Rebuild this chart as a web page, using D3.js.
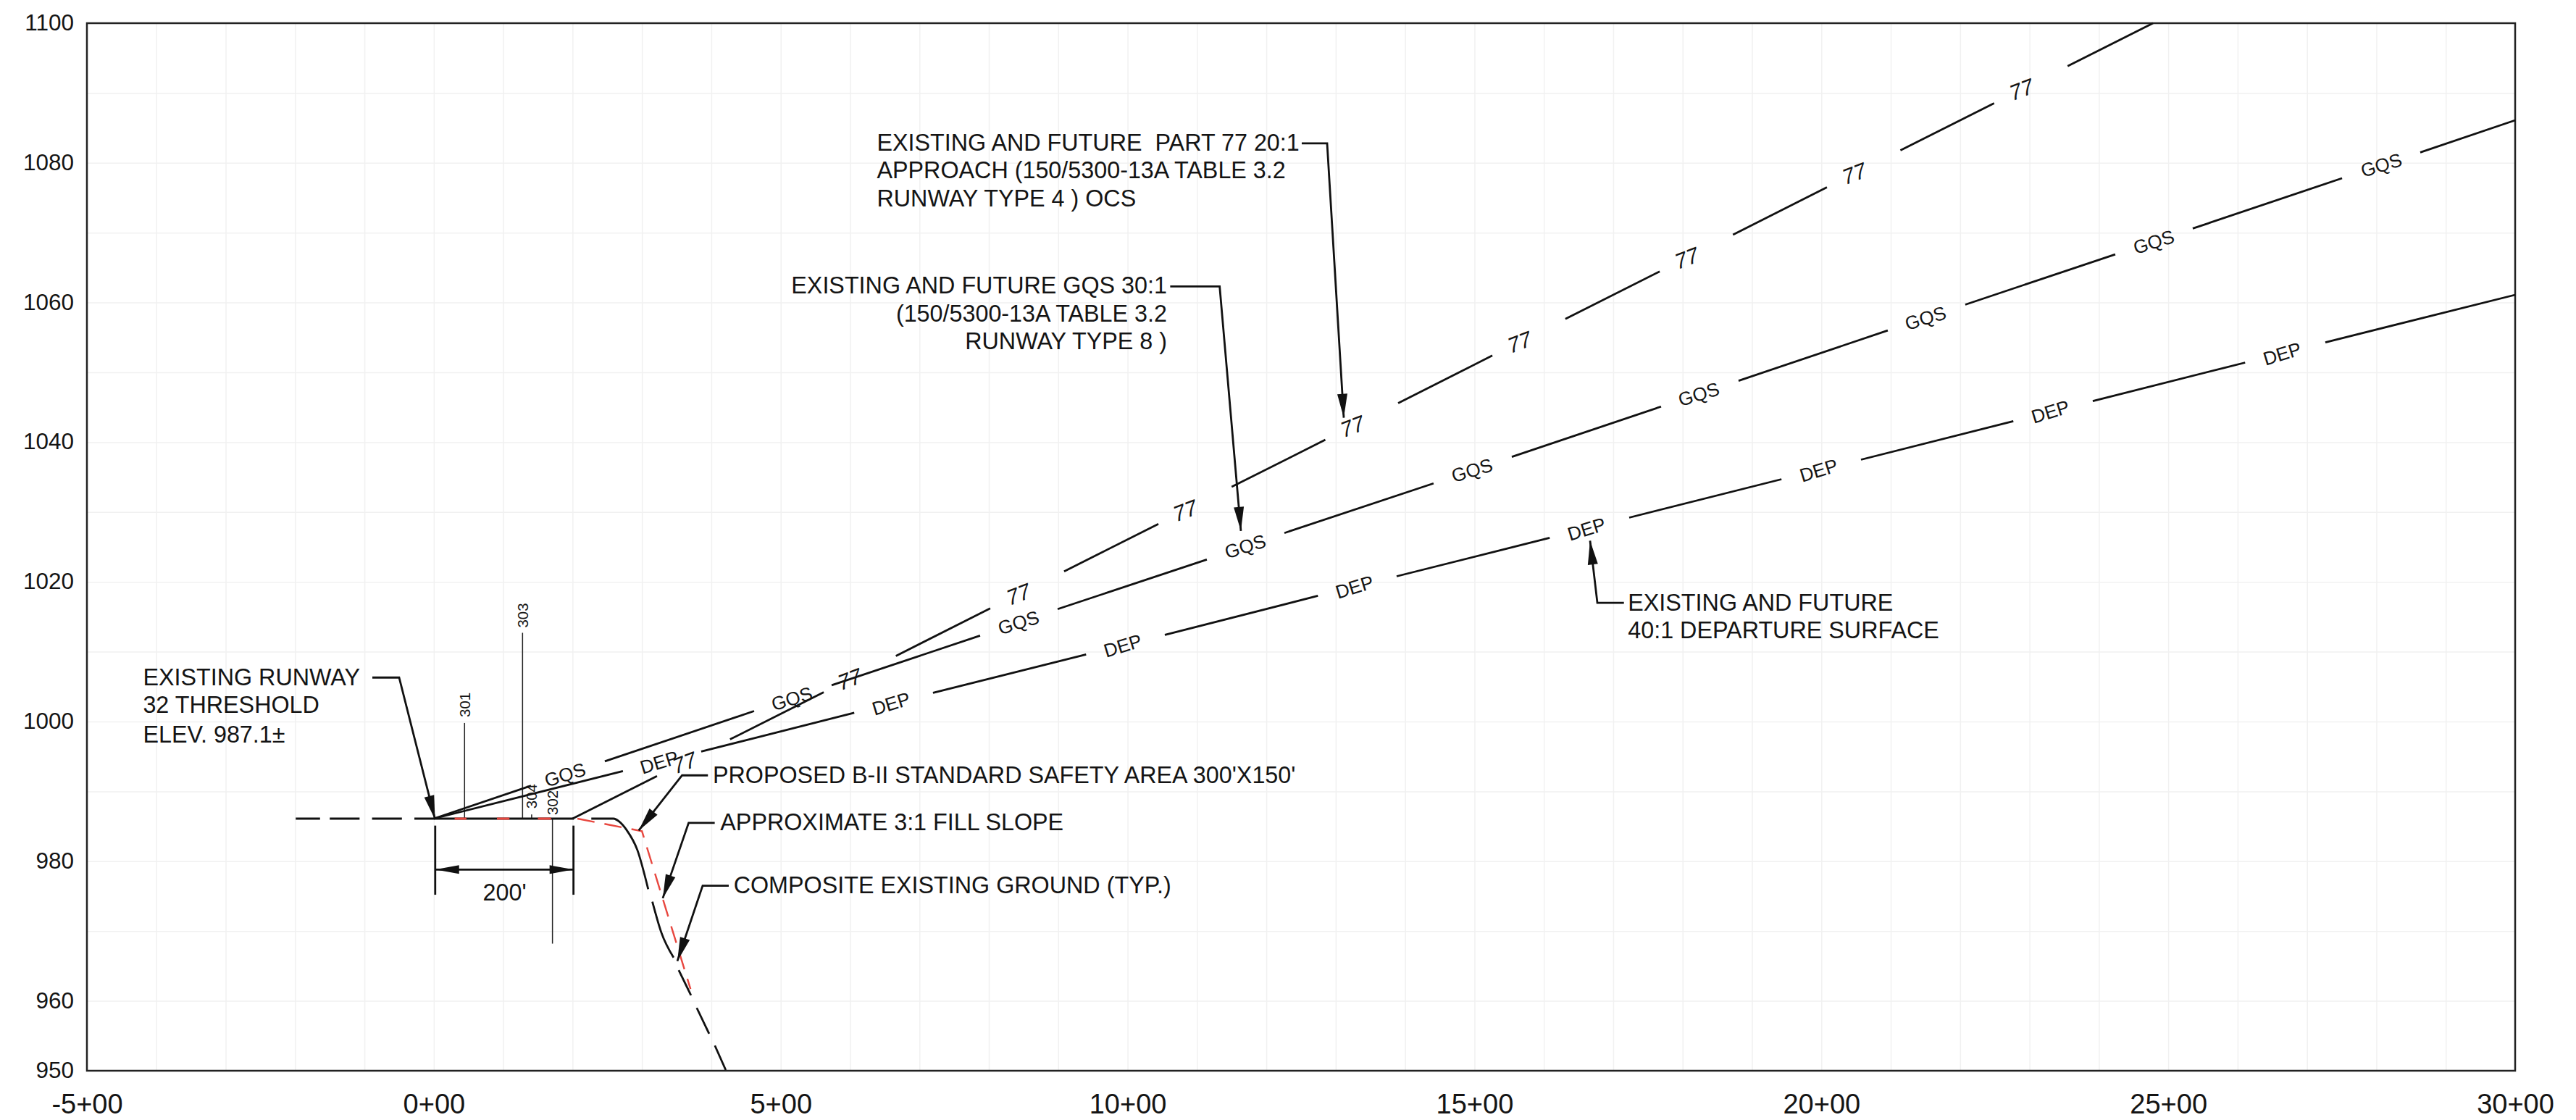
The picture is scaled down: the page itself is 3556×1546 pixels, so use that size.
<!DOCTYPE html>
<html>
<head>
<meta charset="utf-8">
<script src="https://cdn.jsdelivr.net/npm/d3@7"></script>
<style>
    html, body { margin: 0; background: #fff; }
    text { font-family: "Liberation Sans", Arial, sans-serif; fill: #141414; white-space: pre; }
</style>
</head>
<body>
<div id="chart"></div>
<script>
// ticks
const stationTicks = [-500, 0, 500, 1000, 1500, 2000, 2500, 3000];
const stationLabels = ['-5+00', '0+00', '5+00', '10+00', '15+00', '20+00', '25+00', '30+00'];
const elevTicks = [950, 960, 980, 1000, 1020, 1040, 1060, 1080, 1100];

// part 77 20:1 surface, one entry per drawn piece
const part77Starts = [[200, 986.1], [427, 997.45], [666, 1009.4], [908.5, 1021.5], [1150, 1033.6], [1390, 1045.6], [1631, 1057.65], [1872.6, 1069.7], [2114, 1081.8], [2355, 1093.85]];
const part77Ends = [[321.7, 992.2], [562, 1004.2], [802, 1016.2], [1044.4, 1028.3], [1285, 1040.35], [1525.7, 1052.4], [1767, 1064.45], [2008, 1076.5], [2249, 1088.55], [2478, 1100]];
const part77Labels = [[361.4, 994.15], [599.5, 1006.1], [842.7, 1018.25], [1083, 1030.25], [1324, 1042.3], [1565, 1054.35], [1806, 1066.4], [2047.4, 1078.5], [2288.5, 1090.55]];

// GQS 30:1 surface
const gqsStarts = [[0, 986.1], [246.5, 994.3], [573.4, 1005.2], [899.2, 1016.1], [1226, 1027], [1553.8, 1037.9], [1880.6, 1048.8], [2207.4, 1059.7], [2535.3, 1070.6], [2863.2, 1081.5]];
const gqsEnds = [[140, 990.8], [461.6, 1001.5], [787.4, 1012.3], [1114.2, 1023.2], [1441, 1034.1], [1768.9, 1045.1], [2095.7, 1056], [2423.6, 1066.9], [2750.5, 1077.8], [3000, 1086.1]];
const gqsLabels = [[189, 992.4], [516, 1003.3], [842.7, 1014.2], [1169.6, 1025.1], [1496.4, 1036], [1823.2, 1046.9], [2150, 1057.8], [2479, 1068.7], [2807, 1079.7]];

// 40:1 departure surface
const depStarts = [[0, 986.1], [385.4, 995.7], [719.5, 1004.1], [1053.7, 1012.4], [1387.8, 1020.8], [1723, 1029.2], [2057.1, 1037.5], [2391.2, 1045.9], [2726.4, 1054.3]];
const depEnds = [[272.6, 992.9], [606, 1001.25], [940.2, 1009.6], [1274.3, 1018], [1608.4, 1026.3], [1942.5, 1034.7], [2276.7, 1043], [2610.8, 1051.4], [3000, 1061.1]];
const depLabels = [[324.8, 994.2], [659, 1002.6], [993, 1010.9], [1327, 1019.3], [1661.4, 1027.6], [1996, 1036], [2330, 1044.4], [2664, 1052.7]];

// existing ground / runway profile, dashes kept as separate pieces
const groundPieces = [
    [[-199, 986.1], [-164, 986.1]],
    [[-150, 986.1], [-107, 986.1]],
    [[-89, 986.1], [-46, 986.1]],
    [[-28, 986.1], [202, 986.1]],
    [[227, 986.1], [259, 986.1], [267, 985.7], [277.7, 984.5], [293.4, 981.6], [309, 976]],
    [[315, 974.2], [327.9, 969.8], [345.6, 966.2]],
    [[353, 964.4], [370.7, 960.8]],
    [[379, 959], [396.8, 955.3]],
    [[405.1, 953.6], [420.8, 950.1]]
];

// safety area grading (red)
const safetyFlat = [[[30, 986.1], [47, 986.1]], [[91, 986.1], [109, 986.1]], [[150, 986.1], [169, 986.1]]];
const safetySlope = [[207, 986.1], [300, 984.3], [370, 961.7]];

// thin station leaders and their labels
const stationLeaders = [
    {name: '301', st: 44.3, from: 986.1, to: 999.8, labelEl: 1002.4},
    {name: '303', st: 127.9, from: 986.1, to: 1012.7, labelEl: 1015.2},
    {name: '304', st: 141, from: 986.1, to: 986.7, labelEl: 989.3},
    {name: '302', st: 171, from: 986.1, to: 968.2, labelEl: 988.4}
];

// 200' dimension
const dimStations = [2, 201.3];
const dimExtent = [985.1, 975.2];
const dimElev = 978.8;
const dimLabel = {text: "200'", st: 102, el: 975.6};

// callouts: leader points (last one is the arrow tip)
const leaderPoints = [
    [[-88.6, 1006.3], [-50, 1006.3], [1.8, 986]],
    [[1251, 1082.8], [1287.6, 1082.8], [1311.6, 1043.5]],
    [[1061.4, 1062.3], [1132.7, 1062.3], [1163.3, 1027.3]],
    [[1715.4, 1017], [1677.1, 1017], [1666.6, 1025.9]],
    [[395.1, 992.3], [357.9, 992.3], [295.3, 984.4]],
    [[404.9, 985.5], [367.3, 985.5], [330, 974.7]],
    [[425.1, 976.5], [387.5, 976.5], [351, 965.7]]
];
const calloutText = [
    {st: -419.2, el: 1006.3, anchor: 'start', text: 'EXISTING RUNWAY'},
    {st: -419.2, el: 1002.3, anchor: 'start', text: '32 THRESHOLD'},
    {st: -419.2, el: 998.1, anchor: 'start', text: 'ELEV. 987.1±'},
    {st: 638.6, el: 1082.9, anchor: 'start', text: 'EXISTING AND FUTURE  PART 77 20:1'},
    {st: 638.6, el: 1078.9, anchor: 'start', text: 'APPROACH (150/5300-13A TABLE 3.2'},
    {st: 638.6, el: 1074.9, anchor: 'start', text: 'RUNWAY TYPE 4 ) OCS'},
    {st: 1056.8, el: 1062.4, anchor: 'end', text: 'EXISTING AND FUTURE GQS 30:1'},
    {st: 1056.8, el: 1058.4, anchor: 'end', text: '(150/5300-13A TABLE 3.2'},
    {st: 1056.8, el: 1054.4, anchor: 'end', text: 'RUNWAY TYPE 8 )'},
    {st: 1721.2, el: 1017, anchor: 'start', text: 'EXISTING AND FUTURE'},
    {st: 1721.2, el: 1013, anchor: 'start', text: '40:1 DEPARTURE SURFACE'},
    {st: 402.1, el: 992.3, anchor: 'start', text: "PROPOSED B-II STANDARD SAFETY AREA 300'X150'"},
    {st: 412.9, el: 985.5, anchor: 'start', text: 'APPROXIMATE 3:1 FILL SLOPE'},
    {st: 432.1, el: 976.5, anchor: 'start', text: 'COMPOSITE EXISTING GROUND (TYP.)'}
];

function createChart() {
    const width = 3556;
    const height = 1546;
    const margins = {top: 32, right: 84, bottom: 68, left: 120};
    const innerWidth = width - margins.left - margins.right;
    const innerHeight = height - margins.top - margins.bottom;

    const svg = d3.select('#chart')
        .append('svg')
        .attr('width', width)
        .attr('height', height)
        .style('display', 'block');

    const g = svg.append('g')
        .attr('transform', `translate(${margins.left},${margins.top})`);

    const x = d3.scaleLinear().domain([-500, 3000]).range([0, innerWidth]);
    const y = d3.scaleLinear().domain([950, 1100]).range([innerHeight, 0]);

    const line = d3.line().x(d => x(d[0])).y(d => y(d[1]));
    const curved = d3.line().x(d => x(d[0])).y(d => y(d[1])).curve(d3.curveMonotoneX);

    // faint grid, 100 ft by 10 ft
    const gridX = g.append('g')
        .attr('transform', `translate(0,${innerHeight})`)
        .call(d3.axisBottom(x).tickValues(d3.range(-400, 3000, 100)).tickSize(-innerHeight).tickFormat(''));
    const gridY = g.append('g')
        .call(d3.axisLeft(y).tickValues(d3.range(960, 1100, 10)).tickSize(-innerWidth).tickFormat(''));
    [gridX, gridY].forEach(a => {
        a.select('.domain').remove();
        a.selectAll('line').attr('stroke', '#f1f1f1').attr('stroke-width', 1.5);
    });

    // axis labels
    const bottomAxis = g.append('g')
        .attr('transform', `translate(0,${innerHeight})`)
        .call(d3.axisBottom(x)
            .tickValues(stationTicks)
            .tickSize(0)
            .tickPadding(32)
            .tickFormat((d, i) => stationLabels[i]));
    const leftAxis = g.append('g')
        .call(d3.axisLeft(y)
            .tickValues(elevTicks)
            .tickSize(0)
            .tickPadding(18)
            .tickFormat(d => d));
    bottomAxis.select('.domain').remove();
    leftAxis.select('.domain').remove();
    bottomAxis.selectAll('text').attr('font-size', 38).attr('font-family', null).attr('fill', null);
    leftAxis.selectAll('text').attr('font-size', 31.5).attr('font-family', null).attr('fill', null).attr('dy', '.3em');
    bottomAxis.attr('font-family', null);
    leftAxis.attr('font-family', null);

    // frame
    g.append('rect')
        .attr('x', 0)
        .attr('y', 0)
        .attr('width', innerWidth)
        .attr('height', innerHeight)
        .attr('fill', 'none')
        .attr('stroke', '#222')
        .attr('stroke-width', 2.5);

    // thin leaders
    g.selectAll('line.leader')
        .data(stationLeaders)
        .join('line')
        .attr('class', 'leader')
        .attr('x1', d => x(d.st))
        .attr('x2', d => x(d.st))
        .attr('y1', d => y(d.from))
        .attr('y2', d => y(d.to))
        .attr('stroke', '#222')
        .attr('stroke-width', 1.5);
    g.selectAll('text.leader-label')
        .data(stationLeaders)
        .join('text')
        .attr('class', 'leader-label')
        .attr('transform', d => `translate(${x(d.st)},${y(d.labelEl)}) rotate(-90)`)
        .attr('text-anchor', 'middle')
        .attr('dy', '.36em')
        .attr('font-size', 20.5)
        .text(d => d.name);

    // surfaces
    const surfaces = [
        {starts: part77Starts, ends: part77Ends, labels: part77Labels, name: '77', size: 30, tilt: -21, lean: -14},
        {starts: gqsStarts, ends: gqsEnds, labels: gqsLabels, name: 'GQS', size: 26, tilt: -17, lean: 0},
        {starts: depStarts, ends: depEnds, labels: depLabels, name: 'DEP', size: 26, tilt: -17, lean: 0}
    ];
    surfaces.forEach(s => {
        g.append('g')
            .selectAll('path')
            .data(s.starts.map((d, i) => [d, s.ends[i]]))
            .join('path')
            .attr('d', line)
            .attr('fill', 'none')
            .attr('stroke', '#111')
            .attr('stroke-width', 2.8);
        g.append('g')
            .selectAll('text')
            .data(s.labels)
            .join('text')
            .attr('transform', d => `translate(${x(d[0])},${y(d[1])}) rotate(${s.tilt}) skewX(${s.lean})`)
            .attr('text-anchor', 'middle')
            .attr('dy', '.36em')
            .attr('font-size', s.size)
            .text(s.name);
    });

    // ground profile
    g.append('g')
        .selectAll('path')
        .data(groundPieces)
        .join('path')
        .attr('d', curved)
        .attr('fill', 'none')
        .attr('stroke', '#111')
        .attr('stroke-width', 2.8);

    // safety area
    g.append('g')
        .selectAll('path')
        .data(safetyFlat)
        .join('path')
        .attr('d', line)
        .attr('fill', 'none')
        .attr('stroke', '#e8473f')
        .attr('stroke-width', 3);
    g.append('path')
        .datum(safetySlope)
        .attr('d', line)
        .attr('fill', 'none')
        .attr('stroke', '#e8473f')
        .attr('stroke-width', 2.4)
        .attr('stroke-dasharray', '24 14');

    // arrow head from the last leg of a leader, drawn in screen space
    const arrowHead = (from, tip, len, half) => {
        const x0 = x(from[0]), y0 = y(from[1]), x1 = x(tip[0]), y1 = y(tip[1]);
        const d = Math.hypot(x1 - x0, y1 - y0);
        const ux = (x1 - x0) / d, uy = (y1 - y0) / d;
        const bx = x1 - ux * len, by = y1 - uy * len;
        return `M${x1},${y1}L${bx - uy * half},${by + ux * half}L${bx + uy * half},${by - ux * half}Z`;
    };

    // dimension
    const dim = g.append('g');
    dim.selectAll('line.ext')
        .data(dimStations)
        .join('line')
        .attr('class', 'ext')
        .attr('x1', d => x(d))
        .attr('x2', d => x(d))
        .attr('y1', y(dimExtent[0]))
        .attr('y2', y(dimExtent[1]))
        .attr('stroke', '#111')
        .attr('stroke-width', 2.8);
    dim.append('path')
        .datum(dimStations.map(d => [d, dimElev]))
        .attr('d', line)
        .attr('stroke', '#111')
        .attr('stroke-width', 2.8);
    dim.append('path')
        .attr('d', arrowHead([dimStations[1], dimElev], [dimStations[0], dimElev], 33, 6))
        .attr('fill', '#111');
    dim.append('path')
        .attr('d', arrowHead([dimStations[0], dimElev], [dimStations[1], dimElev], 33, 6))
        .attr('fill', '#111');
    dim.append('text')
        .attr('x', x(dimLabel.st))
        .attr('y', y(dimLabel.el))
        .attr('dy', '.36em')
        .attr('text-anchor', 'middle')
        .attr('font-size', 32.3)
        .text(dimLabel.text);

    // callouts
    const callouts = g.append('g');
    callouts.selectAll('path.lead')
        .data(leaderPoints)
        .join('path')
        .attr('class', 'lead')
        .attr('d', line)
        .attr('fill', 'none')
        .attr('stroke', '#111')
        .attr('stroke-width', 2.8);
    callouts.selectAll('path.head')
        .data(leaderPoints)
        .join('path')
        .attr('class', 'head')
        .attr('d', d => arrowHead(d[1], d[2], 33, 7))
        .attr('fill', '#111');
    callouts.selectAll('text')
        .data(calloutText)
        .join('text')
        .attr('x', d => x(d.st))
        .attr('y', d => y(d.el))
        .attr('dy', '.33em')
        .attr('text-anchor', d => d.anchor)
        .attr('font-size', 32.3)
        .text(d => d.text);
}

createChart();
</script>
</body>
</html>
